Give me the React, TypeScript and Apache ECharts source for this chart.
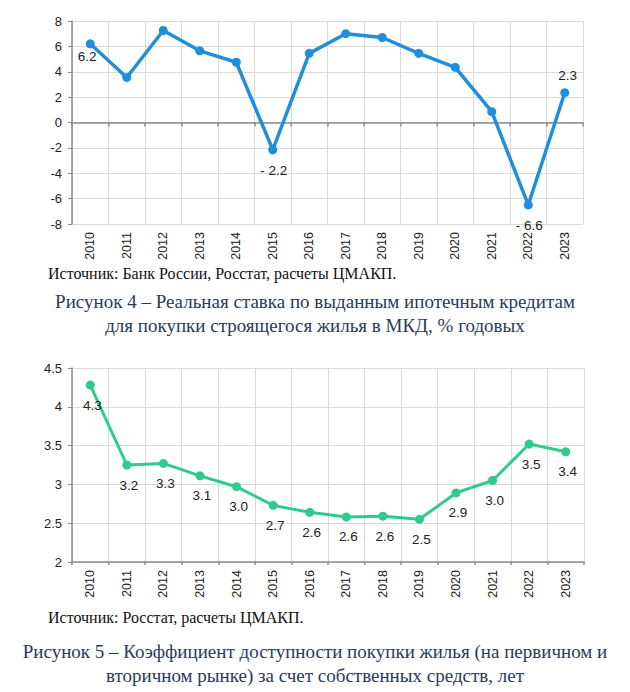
import React, { useEffect, useRef } from "react";
import * as echarts from "echarts";

const years = ["2010", "2011", "2012", "2013", "2014", "2015", "2016", "2017", "2018", "2019", "2020", "2021", "2022", "2023"];

// Figure 4: real mortgage rate, % p.a.
const rateValues = [6.2, 3.55, 7.25, 5.65, 4.75, -2.15, 5.45, 7.0, 6.7, 5.45, 4.35, 0.85, -6.5, 2.35];
const rateLabels = ["6.2", "", "", "", "", "- 2.2", "", "", "", "", "", "", "- 6.6", "2.3"];
const rateAxis = { min: -8, max: 8, interval: 2 };

// Figure 5: affordability ratio, years
const affordValues = [4.28, 3.25, 3.27, 3.11, 2.97, 2.73, 2.64, 2.58, 2.59, 2.55, 2.89, 3.05, 3.52, 3.42];
const affordLabels = ["4.3", "3.2", "3.3", "3.1", "3.0", "2.7", "2.6", "2.6", "2.6", "2.5", "2.9", "3.0", "3.5", "3.4"];
const affordAxis = { min: 2, max: 4.5, interval: 0.5 };

const source1 = "Источник: Банк России, Росстат, расчеты ЦМАКП.";
const caption1 = ["Рисунок 4 – Реальная ставка по выданным ипотечным кредитам", "для покупки строящегося жилья в МКД, % годовых"];
const source2 = "Источник: Росстат, расчеты ЦМАКП.";
const caption2 = ["Рисунок 5 – Коэффициент доступности покупки жилья (на первичном и", "вторичном рынке) за счет собственных средств, лет"];

const SANS = "Liberation Sans";
const SERIF = "Liberation Serif";

export default function App() {
  const ref = useRef<HTMLDivElement>(null);

  useEffect(() => {
    if (!ref.current) return;
    const chart = echarts.init(ref.current, undefined, { renderer: "svg" });

    const gridLine = { show: true, lineStyle: { color: "#d9d9d9", width: 1 } };
    const axisGray = "#8c8c8c";
    const tickLabel = { color: "#222", fontFamily: SANS, fontSize: 13 };

    const topOffsets: Record<number, [number, number]> = {
      0: [-3, 13],
      5: [1, 21],
      12: [1, 21],
      13: [3, -17],
    };

    const rateData = rateValues.map((v, i) => ({
      value: v,
      label: {
        show: rateLabels[i] !== "",
        formatter: rateLabels[i],
        position: "inside",
        offset: topOffsets[i] || [0, 0],
      },
    }));

    const affordData = affordValues.map((v, i) => ({
      value: v,
      label: {
        show: true,
        formatter: affordLabels[i],
        position: "inside",
        offset: [2, 20],
      },
    }));

    const captionColor = "#2b3a57";
    const title = (text: string, left: number | string, cy: number, size: number, color: string) => ({
      text,
      left,
      top: cy - size / 2,
      padding: 0,
      itemGap: 0,
      textStyle: {
        fontFamily: SERIF,
        fontSize: size,
        fontWeight: "normal",
        color,
        lineHeight: size,
      },
    });
    const titles: any[] = [
      title(source1, 48, 273, 16, "#111"),
      title(caption1[0], "center", 301, 19, captionColor),
      title(caption1[1], "center", 325, 19, captionColor),
      title(source2, 48, 617, 16, "#111"),
      title(caption2[0], "center", 651, 19, captionColor),
      title(caption2[1], "center", 675, 19, captionColor),
    ];

    chart.setOption({
      animation: false,
      backgroundColor: "#ffffff",
      title: titles,
      grid: [
        { left: 72, width: 511, top: 21, height: 203 },
        { left: 72, width: 512, top: 368, height: 194 },
      ],
      xAxis: [
        {
          type: "category",
          gridIndex: 0,
          data: years,
          position: "bottom",
          boundaryGap: true,
          axisLine: { show: false, onZero: false },
          axisTick: { show: false },
          axisLabel: { ...tickLabel, fontSize: 12.5, rotate: 90, margin: 8 },
          splitLine: gridLine,
        },
        {
          type: "category",
          gridIndex: 0,
          data: years,
          position: "top",
          boundaryGap: true,
          axisLine: { show: true, onZero: true, lineStyle: { color: axisGray, width: 1.5 } },
          axisTick: { show: true, inside: true, length: 4, lineStyle: { color: axisGray, width: 1.5 } },
          axisLabel: { show: false },
          splitLine: { show: false },
        },
        {
          type: "category",
          gridIndex: 1,
          data: years,
          position: "bottom",
          boundaryGap: true,
          axisLine: { show: true, onZero: false, lineStyle: { color: axisGray, width: 1.5 } },
          axisTick: { show: true, length: 3, lineStyle: { color: axisGray, width: 1.5 } },
          axisLabel: { ...tickLabel, fontSize: 12.5, rotate: 90, margin: 8 },
          splitLine: gridLine,
        },
      ],
      yAxis: [
        {
          type: "value",
          gridIndex: 0,
          ...rateAxis,
          axisLine: { show: true, lineStyle: { color: axisGray, width: 1.5 } },
          axisTick: { show: true, length: 4, lineStyle: { color: axisGray } },
          axisLabel: { ...tickLabel, margin: 10 },
          splitLine: gridLine,
        },
        {
          type: "value",
          gridIndex: 1,
          ...affordAxis,
          axisLine: { show: true, lineStyle: { color: axisGray, width: 1.5 } },
          axisTick: { show: true, length: 4, lineStyle: { color: axisGray } },
          axisLabel: { ...tickLabel, margin: 10 },
          splitLine: gridLine,
        },
      ],
      series: [
        {
          type: "line",
          xAxisIndex: 0,
          yAxisIndex: 0,
          data: rateData,
          symbol: "circle",
          symbolSize: 9,
          lineStyle: { color: "#1f8fda", width: 3.5 },
          itemStyle: { color: "#1f8fda" },
          label: { color: "#222", fontFamily: SANS, fontSize: 13.5 },
          z: 5,
        },
        {
          type: "line",
          xAxisIndex: 2,
          yAxisIndex: 1,
          data: affordData,
          symbol: "circle",
          symbolSize: 9,
          lineStyle: { color: "#2fcb8c", width: 3 },
          itemStyle: { color: "#2fcb8c" },
          label: { color: "#222", fontFamily: SANS, fontSize: 13.5 },
          z: 5,
        },
      ],
    });

    return () => chart.dispose();
  }, []);

  return (
    <div
      ref={ref}
      style={{ position: "fixed", left: 0, top: 0, width: 630, height: 692, background: "#fff" }}
    />
  );
}
